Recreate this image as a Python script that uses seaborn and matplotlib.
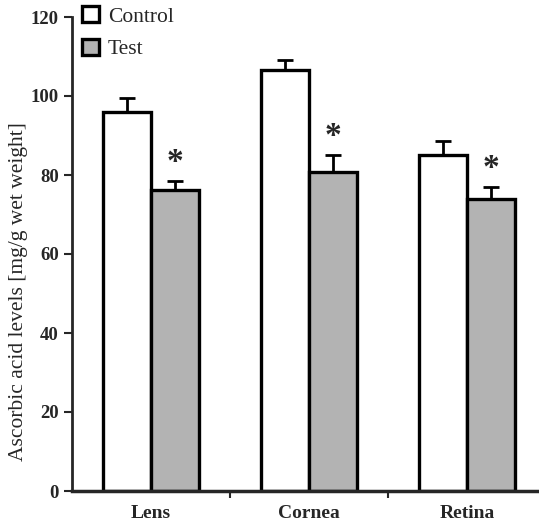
import matplotlib
matplotlib.use('Agg')
import matplotlib.pyplot as plt
import seaborn as sns
import pandas as pd

tissues = ['Lens', 'Cornea', 'Retina']
groups = ['Control', 'Test']
control_mean = [96.0, 106.6, 85.1]
control_err = [3.4, 2.6, 3.5]
test_mean = [76.1, 80.7, 74.0]
test_err = [2.5, 4.4, 3.0]
significant = [True, True, True]

df = pd.DataFrame({
    'tissue': tissues * 2,
    'group': ['Control'] * 3 + ['Test'] * 3,
    'level': control_mean + test_mean,
    'err': control_err + test_err,
})

sns.set_style('ticks')
plt.rcParams['font.family'] = ['Liberation Serif', 'DejaVu Serif']

fig = plt.figure(figsize=(5.39, 5.27), dpi=100)
ax = fig.add_axes([72/539, 1-491/527, 467/539, 474/527])

sns.barplot(data=df, x='tissue', y='level', hue='group', order=tissues, hue_order=groups,
            palette={'Control': 'white', 'Test': '#b3b3b3'}, saturation=1, width=0.61,
            errorbar=None, edgecolor='black', linewidth=2.4, ax=ax)

# upper error bars + asterisks
for cont, g in zip(ax.containers, groups):
    sub = df[df.group == g].set_index('tissue').loc[tissues]
    for bar, (t, row) in zip(cont, sub.iterrows()):
        xc = bar.get_x() + bar.get_width() / 2
        ax.errorbar(xc, row.level, yerr=[[0], [row.err]], fmt='none', ecolor='black',
                    elinewidth=2, capsize=5.5, capthick=2, zorder=1)
        if g == 'Test' and significant[tissues.index(t)]:
            ax.text(xc, row.level + row.err + 0.6, '*', ha='center', va='bottom',
                    fontsize=24, fontweight='bold')

ax.set_ylim(0, 120)
ax.set_xlim(-0.5, 2.456)
ax.set_yticks(range(0, 121, 20))
ax.set_xticks([0.5, 1.5], minor=True)
ax.set_xticks(range(3))
ax.set_xticklabels(tissues, fontsize=14, fontweight='bold')
ax.tick_params(axis='x', which='major', length=0, pad=10)
ax.tick_params(axis='x', which='minor', length=5, width=1.5, direction='out')
ax.tick_params(axis='y', length=6, width=1.5, labelsize=13.5)
for lab in ax.get_yticklabels():
    lab.set_fontweight('bold')

ax.set_xlabel('')
ax.set_ylabel('Ascorbic acid levels [mg/g wet weight]', fontsize=15.5)
ax.yaxis.set_label_coords(-0.094, 0.42)
sns.despine(ax=ax)
ax.spines['left'].set_linewidth(2)
ax.spines['bottom'].set_linewidth(2.5)

h, l = ax.get_legend_handles_labels()
ax.legend(h, l, frameon=False, loc='upper left', bbox_to_anchor=(82/539, 1-6/527),
          bbox_transform=fig.transFigure, borderpad=0, borderaxespad=0,
          handlelength=0.8, handleheight=0.8, handletextpad=0.4, labelspacing=0.55,
          prop={'family': 'Liberation Serif', 'size': 15.5})

fig.savefig('out.png', dpi=100)
